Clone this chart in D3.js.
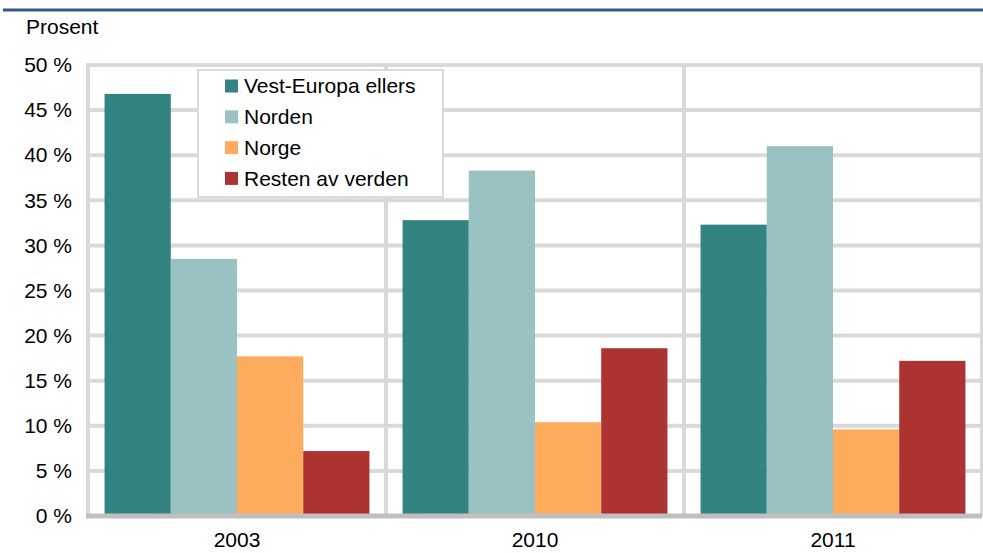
<!DOCTYPE html>
<html>
<head>
<meta charset="utf-8">
<script src="https://cdn.jsdelivr.net/npm/d3@7"></script>
<style>
  body { margin: 0; background: #fff; }
  text { font-family: "Liberation Sans", Arial, sans-serif; fill: #000; }
</style>
</head>
<body>
<div id="chart"></div>
<script>
const years = ['2003', '2010', '2011']
const seriesNames = ['Vest-Europa ellers', 'Norden', 'Norge', 'Resten av verden']
const vestEuropa = [46.8, 32.8, 32.3]
const norden = [28.5, 38.3, 41.0]
const norge = [17.7, 10.4, 9.6]
const resten = [7.2, 18.6, 17.2]
const yTicks = [0, 5, 10, 15, 20, 25, 30, 35, 40, 45, 50]
const colors = ['#348383', '#9bc2c2', '#fdab5c', '#ad3333']

const seriesValues = [vestEuropa, norden, norge, resten]

const width = 983
const height = 553
const plot = { left: 88, right: 982, top: 65, bottom: 516 }

const svg = d3.select('#chart')
              .append('svg')
              .attr('width', width)
              .attr('height', height)

// blue rule under the (cut off) heading
svg.append('line')
   .attr('x1', 3).attr('x2', width)
   .attr('y1', 10).attr('y2', 10)
   .attr('stroke', '#3a5689')
   .attr('stroke-width', 3)

svg.append('text')
   .attr('x', 26)
   .attr('y', 34)
   .attr('font-size', 21)
   .text('Prosent')

const x0 = d3.scaleBand()
             .domain(years)
             .range([plot.left, plot.right])

const x1 = d3.scaleBand()
             .domain(seriesNames)
             .range([0, x0.bandwidth()])
             .paddingOuter(0.25)

const y = d3.scaleLinear()
            .domain([0, 50])
            .range([plot.bottom, plot.top])

// grid
const grid = svg.append('g')
grid.selectAll('line.h')
    .data(yTicks.filter(d => d > 0))
    .enter()
    .append('line')
    .attr('x1', plot.left).attr('x2', plot.right)
    .attr('y1', d => y(d)).attr('y2', d => y(d))
    .attr('stroke', '#d9d9d9')
    .attr('stroke-width', 4)

grid.selectAll('line.v')
    .data(years.map(d => x0(d)).concat([plot.right]))
    .enter()
    .append('line')
    .attr('x1', d => d).attr('x2', d => d)
    .attr('y1', y(50) - 2).attr('y2', plot.bottom)
    .attr('stroke', '#d9d9d9')
    .attr('stroke-width', 4)

// bars
const groups = svg.selectAll('g.year')
                  .data(years)
                  .enter()
                  .append('g')
                  .attr('transform', d => `translate(${x0(d)}, 0)`)

groups.selectAll('rect')
      .data((_, i) => seriesNames.map((name, j) => ({ name, value: seriesValues[j][i], color: colors[j] })))
      .enter()
      .append('rect')
      .attr('x', d => x1(d.name))
      .attr('y', d => y(d.value))
      .attr('width', x1.bandwidth())
      .attr('height', d => y(0) - y(d.value))
      .attr('fill', d => d.color)

// baseline
svg.append('line')
   .attr('x1', plot.left - 2).attr('x2', plot.right)
   .attr('y1', y(0)).attr('y2', y(0))
   .attr('stroke', '#bfbfbf')
   .attr('stroke-width', 5)

// y axis labels
const yAxis = svg.append('g')
                 .attr('transform', `translate(${plot.left}, 0)`)
                 .call(d3.axisLeft(y)
                         .tickValues(yTicks)
                         .tickSize(0)
                         .tickPadding(16)
                         .tickFormat(d => `${d} %`))
yAxis.select('.domain').remove()
yAxis.selectAll('text')
     .attr('font-size', 21)
     .attr('font-family', '"Liberation Sans", Arial, sans-serif')
     .attr('fill', '#000')

// x axis labels
const xAxis = svg.append('g')
                 .attr('transform', `translate(0, ${plot.bottom})`)
                 .call(d3.axisBottom(x0).tickSize(0).tickPadding(16))
xAxis.select('.domain').remove()
xAxis.selectAll('text')
     .attr('font-size', 21)
     .attr('font-family', '"Liberation Sans", Arial, sans-serif')
     .attr('fill', '#000')

// legend
const legend = svg.append('g')
legend.append('rect')
      .attr('x', 198).attr('y', 70)
      .attr('width', 245).attr('height', 127)
      .attr('fill', '#fff')
      .attr('stroke', '#d9d9d9')
      .attr('stroke-width', 2)

const items = legend.selectAll('g.item')
                    .data(seriesNames)
                    .enter()
                    .append('g')
                    .attr('transform', (_, i) => `translate(225, ${86 + i * 30.8})`)

items.append('rect')
     .attr('x', 0).attr('y', -6.5)
     .attr('width', 13).attr('height', 13)
     .attr('fill', (_, i) => colors[i])

items.append('text')
     .attr('x', 19)
     .attr('dy', '0.35em')
     .attr('font-size', 21)
     .text(d => d)
</script>
</body>
</html>
